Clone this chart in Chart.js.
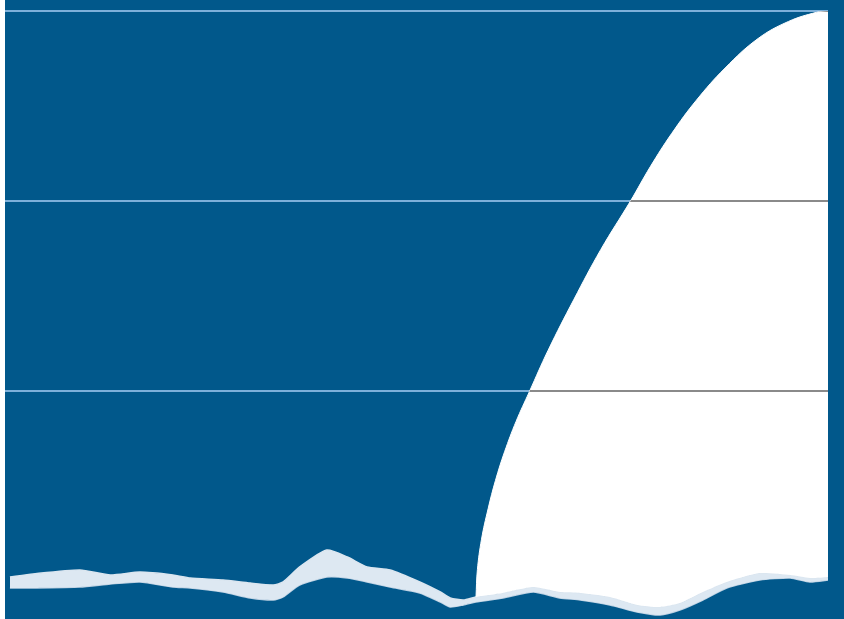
<!DOCTYPE html>
<html>
<head>
<meta charset="utf-8">
<script src="https://cdn.jsdelivr.net/npm/chart.js@4.4.1/dist/chart.umd.min.js"></script>
<style>
  html, body { margin: 0; padding: 0; background: #ffffff; }
  #wrap { position: absolute; left: 5px; top: 0; width: 839px; height: 619px; background: #01588b; }
</style>
</head>
<body>
<div id="wrap"><canvas id="fin" width="839" height="619"></canvas></div>
<script>
// curve of the white area (x in % of width, y in grid units)
var curveX = [57.23, 57.40, 57.90, 58.70, 59.60, 60.70, 62.10, 63.70, 66.00, 69.10, 72.40, 76.00, 78.40, 81.00, 84.00, 87.50, 91.50, 95.20, 98.60, 100];
var curveY = [-0.084, 0.060, 0.220, 0.380, 0.530, 0.680, 0.840, 0.995, 1.215, 1.480, 1.745, 2.000, 2.180, 2.355, 2.530, 2.700, 2.855, 2.945, 2.993, 3.0];

// torn paper strip along the bottom
var bandX = [0.6, 3.4, 9.1, 12.8, 16.4, 20.4, 22.5, 26.5, 29.8, 32.6, 33.8, 35.8, 39.1, 41.6, 44.0, 46.8, 50.4, 52.9, 54.1, 55.7, 57.2, 60.5, 64.2, 67.4, 69.9, 73.5, 76.8, 79.6, 82.0, 84.8, 87.7, 91.7, 95.4, 97.8, 100, 101.9];
var bandTop = [0.021, 0.037, 0.058, 0.032, 0.047, 0.032, 0.016, 0.005, -0.011, -0.021, -0.005, 0.074, 0.163, 0.126, 0.074, 0.058, -0.005, -0.058, -0.089, -0.1, -0.084, -0.063, -0.032, -0.058, -0.063, -0.084, -0.126, -0.137, -0.116, -0.058, -0.005, 0.042, 0.032, 0.016, 0.021, 0.042];
var bandBottom = [-0.037, -0.037, -0.032, -0.016, -0.005, -0.032, -0.037, -0.058, -0.089, -0.1, -0.084, -0.021, 0.021, 0.016, -0.005, -0.032, -0.063, -0.111, -0.137, -0.126, -0.111, -0.089, -0.058, -0.089, -0.1, -0.126, -0.163, -0.179, -0.153, -0.1, -0.037, 0.005, 0.016, -0.005, 0.005, 0.016];

// horizontal grid lines
var gridVals = [1, 2, 3];

function pts(xs, ys) {
  return xs.map(function(x, i) { return {x: x, y: ys[i]}; });
}

// grid lines turn grey where they cross the white area
var greyGrid = {
  id: 'greyGrid',
  afterDatasetsDraw: function(chart) {
    var ctx = chart.ctx, area = chart.chartArea;
    var meta = chart.getDatasetMeta(0);
    var yScale = chart.scales.y;
    ctx.save();
    ctx.beginPath();
    meta.dataset.path(ctx);
    ctx.lineTo(area.right, area.bottom);
    ctx.lineTo(meta.data[0].x, area.bottom);
    ctx.closePath();
    ctx.clip();
    ctx.strokeStyle = '#8a8a8a';
    ctx.lineWidth = 2;
    gridVals.forEach(function(v) {
      var py = Math.round(yScale.getPixelForValue(v));
      ctx.beginPath();
      ctx.moveTo(area.left, py);
      ctx.lineTo(area.right, py);
      ctx.stroke();
    });
    ctx.restore();
  }
};

var ctx = document.getElementById('fin').getContext('2d');
var chart = new Chart(ctx, {
  type: 'line',
  data: {
    datasets: [
      {
        data: pts(curveX, curveY),
        borderColor: '#ffffff',
        borderWidth: 1,
        backgroundColor: '#ffffff',
        fill: 1,
        tension: 0.4,
        pointRadius: 0
      },
      {
        data: pts(bandX, bandTop),
        borderColor: '#dbe6f0',
        borderWidth: 1.5,
        backgroundColor: '#dde8f2',
        fill: 2,
        tension: 0.2,
        pointRadius: 0,
        clip: false
      },
      {
        data: pts(bandX, bandBottom),
        borderColor: '#bcd0e2',
        borderWidth: 1.5,
        fill: false,
        tension: 0.2,
        pointRadius: 0,
        clip: false
      }
    ]
  },
  options: {
    responsive: false,
    animation: false,
    layout: { padding: { left: 0, right: 16, top: 11, bottom: 0 } },
    plugins: { legend: { display: false }, tooltip: { enabled: false } },
    scales: {
      x: { type: 'linear', min: 0, max: 100, display: false },
      y: {
        type: 'linear',
        min: -0.2,
        max: 3,
        afterBuildTicks: function(scale) {
          scale.ticks = gridVals.map(function(v) { return {value: v}; });
        },
        ticks: { display: false },
        border: { display: false },
        grid: { color: '#7db0da', lineWidth: 2, drawTicks: false }
      }
    }
  },
  plugins: [greyGrid]
});
</script>
</body>
</html>
